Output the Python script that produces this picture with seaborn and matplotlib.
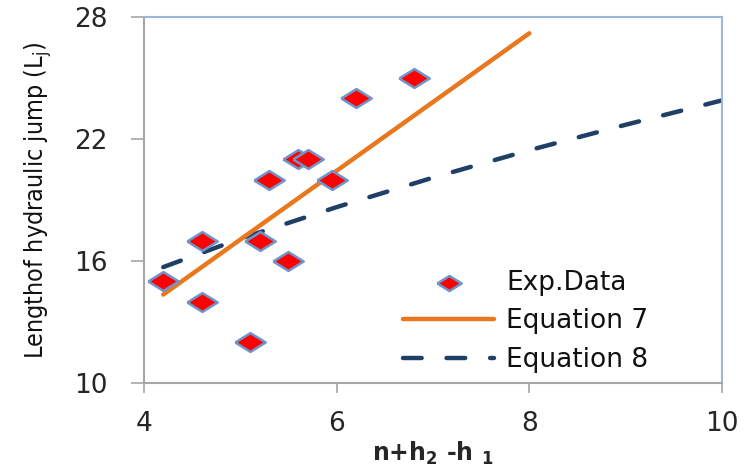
import numpy as np
import pandas as pd
import matplotlib
matplotlib.use("Agg")
import matplotlib.pyplot as plt
import seaborn as sns

# ---- data ----
exp_x = [4.2, 4.6, 4.6, 5.1, 5.2, 5.3, 5.5, 5.6, 5.7, 5.95, 6.2, 6.8]
exp_y = [15, 17, 14, 12, 17, 20, 16, 21, 21, 20, 24, 25]

eq7_x = [4.2, 8.0]
eq7_y = [14.35, 27.2]

eq8_x = [4.2, 5, 6, 7, 8, 9, 10]
eq8_y = [15.7, 17.1, 18.65, 20.1, 21.45, 22.7, 23.9]

x_ticks = [4, 6, 8, 10]
y_ticks = [10, 16, 22, 28]

sns.set_style("white")
plt.rcParams['font.family'] = ['DejaVu Sans']

fig = plt.figure(figsize=(7.44, 4.72), dpi=100)
ax = fig.add_axes([144/744, 1-383/472, (722-144)/744, (383-17)/472])

diamond = [(-1, 0), (0, 0.62), (1, 0), (0, -0.62), (-1, 0)]

df_exp = pd.DataFrame({"x": exp_x, "y": exp_y})
df7 = pd.DataFrame({"x": eq7_x, "y": eq7_y})
df8 = pd.DataFrame({"x": eq8_x, "y": eq8_y})

sns.lineplot(data=df8, x="x", y="y", ax=ax, color="#1F3F66", lw=3.2,
             linestyle=(0, (4.2, 5.6)), dash_capstyle="round",
             label="Equation 8", zorder=2)
sns.lineplot(data=df7, x="x", y="y", ax=ax, color="#E8771E", lw=3.2,
             solid_capstyle="round", label="Equation 7", zorder=3)
sns.scatterplot(data=df_exp, x="x", y="y", ax=ax, marker=diamond, s=480,
                color="#FF0000", edgecolor="#6E95CC", linewidth=1.8,
                label="Exp.Data", zorder=4)

ax.set_xlim(4, 10)
ax.set_ylim(10, 28)
ax.set_xticks(x_ticks)
ax.set_yticks(y_ticks)
ax.set_xticklabels([str(t) for t in x_ticks])
ax.set_yticklabels([str(t) for t in y_ticks])

for s in ["left", "bottom"]:
    ax.spines[s].set_color("#A6A6A6")
    ax.spines[s].set_linewidth(1.5)
for s in ["top", "right"]:
    ax.spines[s].set_color("#9DB6DA")
    ax.spines[s].set_linewidth(1.5)

ax.tick_params(axis="y", direction="out", length=9.5, width=1.2, color="#A6A6A6",
               pad=17, labelsize=19, labelcolor="#262626", left=True)
ax.tick_params(axis="x", direction="out", length=7, width=1.2, color="#A6A6A6",
               pad=13, labelsize=19, labelcolor="#262626", bottom=True)

ax.set_xlabel(r"n+h$_\mathbf{2}$ -h $_\mathbf{1}$", fontsize=17, fontweight="bold",
              labelpad=2)
ax.set_ylabel(r"Lengthof hydraulic jump (L$_\mathregular{j}$)", fontsize=18,
              fontstretch="condensed", color="#111111", labelpad=14)

handles, labels = ax.get_legend_handles_labels()
order = [labels.index("Exp.Data"), labels.index("Equation 7"), labels.index("Equation 8")]
leg = ax.legend([handles[i] for i in order], [labels[i] for i in order],
                loc="upper left", bbox_to_anchor=((403-144)/578, (383-270)/366),
                borderaxespad=0, borderpad=0, frameon=False,
                fontsize=19, handlelength=3.45, handletextpad=0.45,
                labelspacing=0.47, markerscale=0.8)
for t in leg.get_texts():
    t.set_color("#111111")

fig.savefig("out.png", dpi=100)
